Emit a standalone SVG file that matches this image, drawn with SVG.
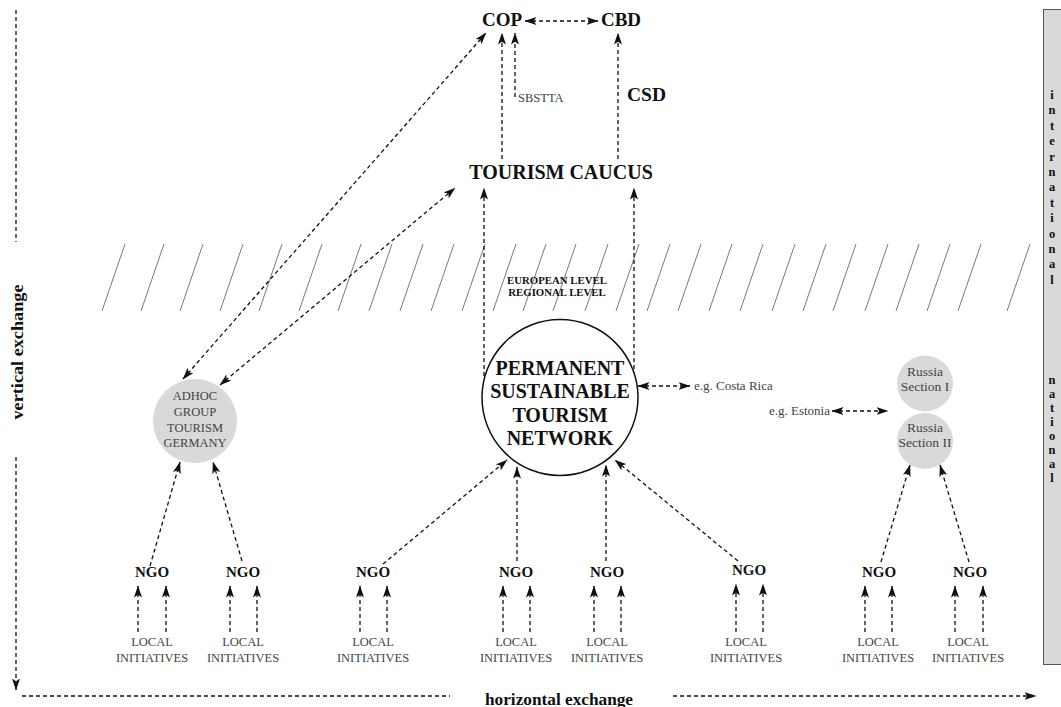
<svg xmlns="http://www.w3.org/2000/svg" width="1061" height="707" viewBox="0 0 1061 707">
<defs>
<style>
.d{stroke:#111;stroke-width:1.3;stroke-dasharray:4 3;fill:none}
.a{marker-end:url(#ah)}
.b{marker-start:url(#ah);marker-end:url(#ah)}
.h{stroke:#555;stroke-width:0.8}
.bt{font-family:"Liberation Serif",serif;font-weight:bold;fill:#111}
.rt{font-family:"Liberation Serif",serif;fill:#444}
.ng{font-size:15px;text-anchor:middle}
.li{font-size:12.5px;text-anchor:middle}
.gc{fill:#d9d9d9}
.bar{font-size:12.5px;text-anchor:middle}
</style>
<marker id="ah" viewBox="0 0 12 8" refX="11.5" refY="4" markerWidth="12" markerHeight="8" markerUnits="userSpaceOnUse" orient="auto-start-reverse"><path d="M0,0 L12,4 L0,8 L2.8,4 z" fill="#111"/></marker>
</defs>
<rect width="1061" height="707" fill="#fff"/>

<g id="hatch">
<line class="h" x1="102" y1="311" x2="125" y2="244"/>
<line class="h" x1="141" y1="311" x2="164" y2="244"/>
<line class="h" x1="180" y1="311" x2="203" y2="244"/>
<line class="h" x1="220" y1="311" x2="243" y2="244"/>
<line class="h" x1="259" y1="311" x2="282" y2="244"/>
<line class="h" x1="299" y1="311" x2="322" y2="244"/>
<line class="h" x1="338" y1="311" x2="361" y2="244"/>
<line class="h" x1="369" y1="311" x2="392" y2="244"/>
<line class="h" x1="400" y1="311" x2="423" y2="244"/>
<line class="h" x1="431" y1="311" x2="454" y2="244"/>
<line class="h" x1="462" y1="311" x2="485" y2="244"/>
<line class="h" x1="493" y1="311" x2="516" y2="244"/>
<line class="h" x1="523" y1="311" x2="546" y2="244"/>
<line class="h" x1="553" y1="311" x2="576" y2="244"/>
<line class="h" x1="585" y1="311" x2="608" y2="244"/>
<line class="h" x1="616" y1="311" x2="639" y2="244"/>
<line class="h" x1="647" y1="311" x2="670" y2="244"/>
<line class="h" x1="678" y1="311" x2="701" y2="244"/>
<line class="h" x1="709" y1="311" x2="732" y2="244"/>
<line class="h" x1="740" y1="311" x2="763" y2="244"/>
<line class="h" x1="772" y1="311" x2="795" y2="244"/>
<line class="h" x1="803" y1="311" x2="826" y2="244"/>
<line class="h" x1="833" y1="311" x2="856" y2="244"/>
<line class="h" x1="865" y1="311" x2="888" y2="244"/>
<line class="h" x1="896" y1="311" x2="919" y2="244"/>
<line class="h" x1="927" y1="311" x2="950" y2="244"/>
<line class="h" x1="958" y1="311" x2="981" y2="244"/>
<line class="h" x1="1007" y1="311" x2="1030" y2="244"/>
</g>

<g id="levels">
<text class="bt" x="557" y="284" font-size="10.8" text-anchor="middle">EUROPEAN LEVEL</text>
<text class="bt" x="557" y="296" font-size="10.8" text-anchor="middle">REGIONAL LEVEL</text>
</g>

<g id="sidebar">
<rect x="1043.5" y="9.5" width="20" height="655" fill="#d9d9d9" stroke="#555" stroke-width="1"/>
<text class="bt bar" x="1052" y="99">i</text>
<text class="bt bar" x="1052" y="114.4">n</text>
<text class="bt bar" x="1052" y="129.8">t</text>
<text class="bt bar" x="1052" y="145.2">e</text>
<text class="bt bar" x="1052" y="160.6">r</text>
<text class="bt bar" x="1052" y="176">n</text>
<text class="bt bar" x="1052" y="191.4">a</text>
<text class="bt bar" x="1052" y="206.8">t</text>
<text class="bt bar" x="1052" y="222.2">i</text>
<text class="bt bar" x="1052" y="237.6">o</text>
<text class="bt bar" x="1052" y="253">n</text>
<text class="bt bar" x="1052" y="268.4">a</text>
<text class="bt bar" x="1052" y="283.8">l</text>
<text class="bt bar" x="1052" y="384">n</text>
<text class="bt bar" x="1052" y="398">a</text>
<text class="bt bar" x="1052" y="412">t</text>
<text class="bt bar" x="1052" y="426">i</text>
<text class="bt bar" x="1052" y="440">o</text>
<text class="bt bar" x="1052" y="454">n</text>
<text class="bt bar" x="1052" y="468">a</text>
<text class="bt bar" x="1052" y="482">l</text>
</g>

<g id="axes">
<line class="d" x1="16" y1="10" x2="16" y2="242"/>
<line class="d a" x1="16" y1="457" x2="16" y2="690"/>
<text class="bt" transform="translate(23,352) rotate(-90)" font-size="16" text-anchor="middle" textLength="135" lengthAdjust="spacingAndGlyphs">vertical exchange</text>
<line class="d" x1="22" y1="696" x2="450" y2="696"/>
<line class="d a" x1="673" y1="696" x2="1036" y2="696"/>
<text class="bt" x="559" y="705" font-size="16" text-anchor="middle" textLength="148" lengthAdjust="spacingAndGlyphs">horizontal exchange</text>
</g>

<g id="connectors">
<line class="d b" x1="525" y1="21" x2="598" y2="21"/>
<line class="d a" x1="502" y1="159" x2="502" y2="33"/>
<line class="d a" x1="515" y1="97" x2="515" y2="33"/>
<line class="d a" x1="618" y1="159" x2="618" y2="33"/>
<line class="d b" x1="183" y1="379" x2="486" y2="33"/>
<line class="d b" x1="220" y1="385" x2="455" y2="188"/>
<line class="d a" x1="484" y1="376" x2="484" y2="188"/>
<line class="d a" x1="634" y1="376" x2="634" y2="188"/>
<line class="d b" x1="638" y1="386" x2="690" y2="386"/>
<line class="d b" x1="832" y1="411" x2="888" y2="411"/>
<line class="d a" x1="150" y1="566" x2="180" y2="462"/>
<line class="d a" x1="242" y1="561" x2="213" y2="462"/>
<line class="d a" x1="383" y1="564" x2="507" y2="460"/>
<line class="d a" x1="517" y1="561" x2="517" y2="467"/>
<line class="d a" x1="606" y1="561" x2="606" y2="465"/>
<line class="d a" x1="738" y1="561" x2="615" y2="460"/>
<line class="d a" x1="881" y1="562" x2="910" y2="465"/>
<line class="d a" x1="969" y1="562" x2="940" y2="465"/>
<line class="d a" x1="138" y1="632" x2="138" y2="586"/>
<line class="d a" x1="166" y1="632" x2="166" y2="586"/>
<line class="d a" x1="230" y1="632" x2="230" y2="586"/>
<line class="d a" x1="257" y1="632" x2="257" y2="586"/>
<line class="d a" x1="360" y1="632" x2="360" y2="586"/>
<line class="d a" x1="387" y1="632" x2="387" y2="586"/>
<line class="d a" x1="503" y1="632" x2="503" y2="586"/>
<line class="d a" x1="530" y1="632" x2="530" y2="586"/>
<line class="d a" x1="594" y1="632" x2="594" y2="586"/>
<line class="d a" x1="621" y1="632" x2="621" y2="586"/>
<line class="d a" x1="736" y1="632" x2="736" y2="584"/>
<line class="d a" x1="763" y1="632" x2="763" y2="584"/>
<line class="d a" x1="865" y1="632" x2="865" y2="586"/>
<line class="d a" x1="892" y1="632" x2="892" y2="586"/>
<line class="d a" x1="955" y1="632" x2="955" y2="586"/>
<line class="d a" x1="983" y1="632" x2="983" y2="586"/>
</g>

<g id="cop"><text class="bt" x="502" y="26" font-size="19" text-anchor="middle">COP</text></g>
<g id="cbd"><text class="bt" x="621" y="26" font-size="19" text-anchor="middle">CBD</text></g>
<g id="sbstta"><text class="rt" x="518" y="102" font-size="12.5">SBSTTA</text></g>
<g id="csd"><text class="bt" x="627" y="101" font-size="19.5">CSD</text></g>
<g id="caucus"><text class="bt" x="561" y="179" font-size="20" text-anchor="middle">TOURISM CAUCUS</text></g>

<g id="network">
<circle cx="560" cy="397.5" r="78" fill="#fff" stroke="#111" stroke-width="1.5"/>
<text class="bt" x="560" y="375" font-size="20" text-anchor="middle">PERMANENT</text>
<text class="bt" x="560" y="398" font-size="20" text-anchor="middle">SUSTAINABLE</text>
<text class="bt" x="560" y="422" font-size="20" text-anchor="middle">TOURISM</text>
<text class="bt" x="560" y="445" font-size="20" text-anchor="middle">NETWORK</text>
</g>

<g id="adhoc">
<circle class="gc" cx="195" cy="421" r="42"/>
<text class="rt li" x="195" y="400">ADHOC</text>
<text class="rt li" x="195" y="416">GROUP</text>
<text class="rt li" x="195" y="432">TOURISM</text>
<text class="rt li" x="195" y="447">GERMANY</text>
</g>

<g id="costarica"><text class="rt" x="694" y="390" font-size="13">e.g. Costa Rica</text></g>
<g id="estonia"><text class="rt" x="830" y="415" font-size="13" text-anchor="end">e.g. Estonia</text></g>

<g id="russia1">
<circle class="gc" cx="925" cy="383.5" r="28"/>
<text class="rt" x="925" y="376" font-size="13.5" text-anchor="middle">Russia</text>
<text class="rt" x="925" y="391" font-size="13.5" text-anchor="middle">Section I</text>
</g>
<g id="russia2">
<circle class="gc" cx="925" cy="441" r="28"/>
<text class="rt" x="925" y="432" font-size="13.5" text-anchor="middle">Russia</text>
<text class="rt" x="925" y="447" font-size="13.5" text-anchor="middle">Section II</text>
</g>

<g id="ngo1"><text class="bt ng" x="152" y="577">NGO</text></g>
<g id="ngo2"><text class="bt ng" x="243" y="577">NGO</text></g>
<g id="ngo3"><text class="bt ng" x="373" y="577">NGO</text></g>
<g id="ngo4"><text class="bt ng" x="516" y="577">NGO</text></g>
<g id="ngo5"><text class="bt ng" x="607" y="577">NGO</text></g>
<g id="ngo6"><text class="bt ng" x="749" y="575">NGO</text></g>
<g id="ngo7"><text class="bt ng" x="879" y="577">NGO</text></g>
<g id="ngo8"><text class="bt ng" x="970" y="577">NGO</text></g>

<g id="local1"><text class="rt li" x="152" y="646">LOCAL</text><text class="rt li" x="152" y="662">INITIATIVES</text></g>
<g id="local2"><text class="rt li" x="243" y="646">LOCAL</text><text class="rt li" x="243" y="662">INITIATIVES</text></g>
<g id="local3"><text class="rt li" x="373" y="646">LOCAL</text><text class="rt li" x="373" y="662">INITIATIVES</text></g>
<g id="local4"><text class="rt li" x="516" y="646">LOCAL</text><text class="rt li" x="516" y="662">INITIATIVES</text></g>
<g id="local5"><text class="rt li" x="607" y="646">LOCAL</text><text class="rt li" x="607" y="662">INITIATIVES</text></g>
<g id="local6"><text class="rt li" x="746" y="646">LOCAL</text><text class="rt li" x="746" y="662">INITIATIVES</text></g>
<g id="local7"><text class="rt li" x="878" y="646">LOCAL</text><text class="rt li" x="878" y="662">INITIATIVES</text></g>
<g id="local8"><text class="rt li" x="968" y="646">LOCAL</text><text class="rt li" x="968" y="662">INITIATIVES</text></g>
</svg>
